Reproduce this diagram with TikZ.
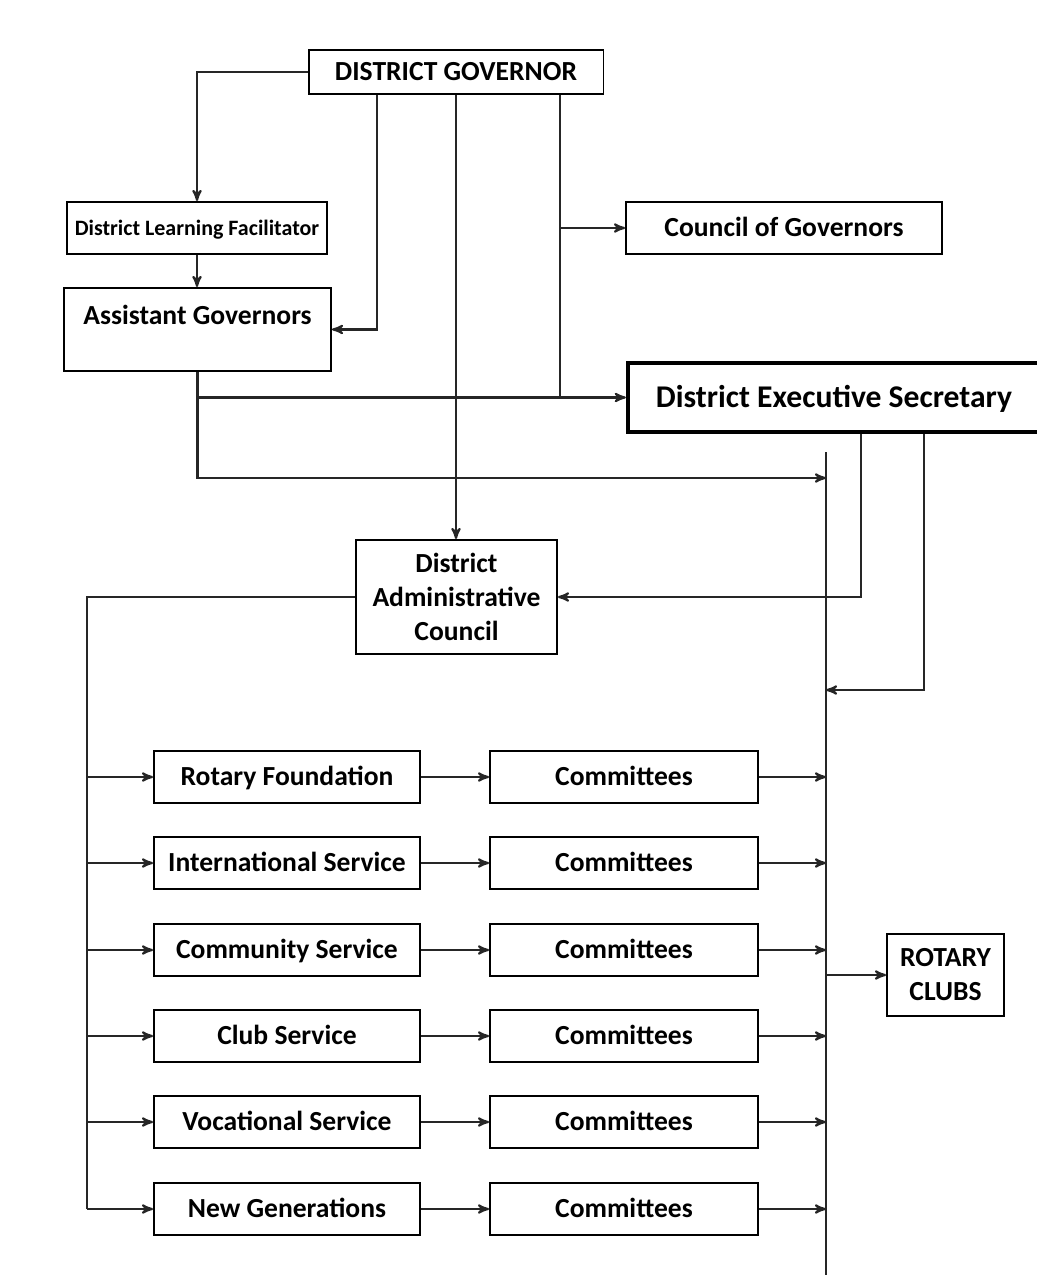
\documentclass[tikz,border=0pt]{standalone}
\usepackage{fontspec}
\setmainfont{Carlito}
\usetikzlibrary{arrows,positioning}

\begin{document}
\begin{tikzpicture}[x=0.02cm,y=-0.02cm,->,>=stealth',line width=1.2pt,
	                    semithick]
		  \tikzstyle{box}=[draw=black,line width=1.1pt,inner sep=0pt,align=center,
		                   minimum width=5.32cm,minimum height=1.04cm,
		                   font=\bfseries\fontsize{15.7}{19.3}\selectfont]
		  \tikzstyle{oneline}=[text height=10pt,text depth=0pt]
		  \tikzstyle{link}=[line width=1.2pt,draw=black!85]

		  \useasboundingbox (0,0) rectangle (1037,1284);

		  % top of the chart
		  \node[box,oneline,minimum width=5.9cm,minimum height=0.88cm] (dg) at (456,72) {DISTRICT GOVERNOR};
		  \node[box,oneline,text height=8pt,minimum width=5.2cm,font=\bfseries\fontsize{12.5}{14}\selectfont] (dlf) at (197,228) {District Learning Facilitator};
		  \node[box,minimum width=5.34cm,minimum height=0pt,text height=0.74cm,text depth=0.92cm] (ag) at (197.5,287) [anchor=north] {Assistant Governors};
		  \node[box,oneline,minimum width=6.32cm] (cog) at (784,228) {Council of Governors};
		  \node[box,oneline,text height=11.6pt,line width=2.5pt,minimum width=8.24cm,minimum height=1.38cm,font=\bfseries\fontsize{18}{20}\selectfont] (des) at (834,397.5) {District Executive Secretary};
		  \node[box,minimum width=4.02cm,minimum height=2.28cm] (dac) at (456.5,597) {District\\Administrative\\Council};
		  \node[box,minimum width=2.34cm,minimum height=1.64cm] (rc) at (945.5,975) {ROTARY\\CLUBS};

		  % services and their committees
		  \node[box,oneline] (rf) at (287,777)  {Rotary Foundation};
		  \node[box,oneline] (is) at (287,863)  {International Service};
		  \node[box,oneline] (cs) at (287,950)  {Community Service};
		  \node[box,oneline] (cls) at (287,1036) {Club Service};
		  \node[box,oneline] (vs) at (287,1122) {Vocational Service};
		  \node[box,oneline] (ng) at (287,1209) {New Generations};
		  \foreach \s in {rf,is,cs,cls,vs,ng}
		    \node[box,oneline,minimum width=5.36cm] (\s c) at (624,0 |- \s) {Committees};

		  \coordinate (bustop) at (826,452);
		  \coordinate (busbot) at (826,1275);

		  % connectors from the governor
		  \draw[link] (dg.west) -| (dlf.north);
		  \draw[link] (dlf.south) -- (dlf.south |- ag.north);
		  \draw[link] (377,0 |- dg.south) |- (ag.east);
		  \draw[link] (dg.south) -- (dg.south |- dac.north);
		  \draw[link,-] (560,0 |- dg.south) -- (560,0 |- des.west);
		  \draw[link] (560,0 |- cog.west) -- (cog.west);

		  % assistant governors and secretary
		  \draw[link] (ag.south |- des.west) -- (des.west);
		  \draw[link] (ag.south) |- (826,478);
		  \draw[link] (861,0 |- des.south) |- (dac.east);
		  \draw[link] (924,0 |- des.south) |- (826,690);

		  % the bus to the clubs
		  \draw[link,-] (bustop) -- (busbot);
		  \draw[link] (bustop |- rc.west) -- (rc.west);
		  \draw[link,-] (dac.west) -| (87,0 |- ng.west);
		  \foreach \s in {rf,is,cs,cls,vs,ng} {
		    \draw[link] (87,0 |- \s.west) -- (\s.west);
		    \draw[link] (\s.east) -- (\s c.west);
		    \draw[link] (\s c.east) -- (bustop |- \s c.east);
		  }
		\end{tikzpicture}
\end{document}
